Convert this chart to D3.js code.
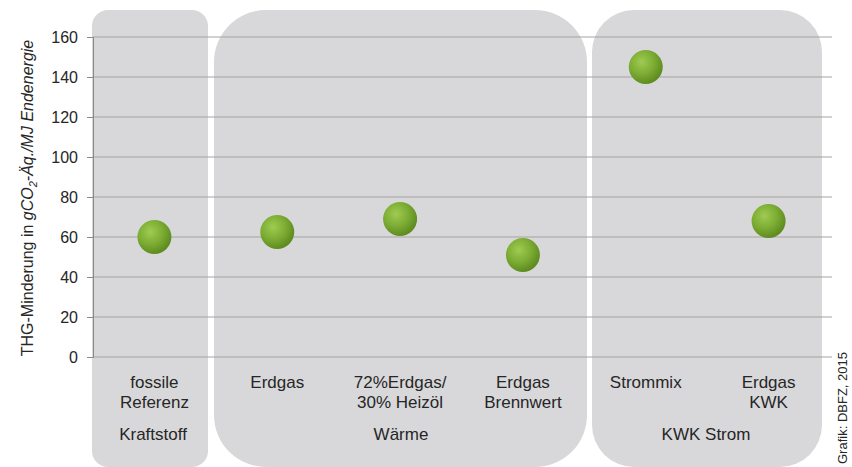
<!DOCTYPE html>
<html lang="de">
<head>
<meta charset="UTF-8">
<title>THG-Minderung</title>
<script src="https://d3js.org/d3.v7.min.js"></script>
<style>
  body { margin: 0; background: #fff; }
  text { font-family: "Liberation Sans", Arial, sans-serif; fill: #262626; }
</style>
</head>
<body>
<script>
var categories = ['fossile Referenz', 'Erdgas', '72%Erdgas/ 30% Heizöl', 'Erdgas Brennwert', 'Strommix', 'Erdgas KWK'];
var catLines = [['fossile', 'Referenz'], ['Erdgas'], ['72%Erdgas/', '30% Heizöl'], ['Erdgas', 'Brennwert'], ['Strommix'], ['Erdgas', 'KWK']];
var values = [60, 62.5, 69, 51, 145, 68];
var groups = ['Kraftstoff', 'Wärme', 'KWK Strom'];
var yTicks = [0, 20, 40, 60, 80, 100, 120, 140, 160];

var width = 852, height = 467;

var x = d3.scaleBand()
  .domain(categories)
  .range([93, 830]);

var y = d3.scaleLinear()
  .domain([0, 160])
  .range([357, 37]);

var svg = d3.select('body').append('svg')
  .attr('width', width)
  .attr('height', height);

var defs = svg.append('defs');
var grad = defs.append('radialGradient')
  .attr('id', 'ball')
  .attr('cx', '38%').attr('cy', '35%').attr('r', '65%');
grad.append('stop').attr('offset', '0%').attr('stop-color', '#9fcb52');
grad.append('stop').attr('offset', '55%').attr('stop-color', '#7dad34');
grad.append('stop').attr('offset', '100%').attr('stop-color', '#5e8c20');

// group panels (rounded boxes that run off the bottom edge)
var panels = [
  { name: groups[0], x0: 92,  x1: 208, r: 16, lx: 153 },
  { name: groups[1], x0: 214, x1: 587, r: 52, lx: 401 },
  { name: groups[2], x0: 592, x1: 822, r: 42, lx: 706 }
];

svg.selectAll('rect.panel')
  .data(panels)
  .enter().append('rect')
  .attr('class', 'panel')
  .attr('x', function(d) { return d.x0; })
  .attr('y', 10)
  .attr('width', function(d) { return d.x1 - d.x0; })
  .attr('height', 457)
  .attr('rx', function(d) { return d.r; })
  .attr('fill', '#d8d8da');

// gridlines
svg.append('g')
  .selectAll('line')
  .data(yTicks)
  .enter().append('line')
  .attr('x1', 93).attr('x2', 832)
  .attr('y1', function(d) { return y(d); })
  .attr('y2', function(d) { return y(d); })
  .attr('stroke', '#a3a3a3')
  .attr('stroke-width', 1);

// y axis
var yAxis = svg.append('g')
  .attr('transform', 'translate(93,0)')
  .call(d3.axisLeft(y).tickValues(yTicks).tickSize(6).tickPadding(9));
yAxis.select('.domain').attr('stroke', '#8a8a8a');
yAxis.selectAll('.tick line').attr('stroke', '#8a8a8a');
yAxis.selectAll('.tick text')
  .style('font-family', '"Liberation Sans", Arial, sans-serif')
  .style('font-size', '16px')
  .attr('fill', '#262626');

// y axis title
var title = svg.append('text')
  .attr('transform', 'translate(33,198) rotate(-90)')
  .attr('text-anchor', 'middle')
  .style('font-size', '16px');
title.append('tspan').text('THG-Minderung in ');
title.append('tspan').attr('font-style', 'italic').text('gCO');
title.append('tspan').attr('font-style', 'italic').attr('font-size', '11px').attr('dy', 4).text('2');
title.append('tspan').attr('font-style', 'italic').attr('dy', -4).text('-Äq./MJ Endenergie');

// points
svg.selectAll('circle.pt')
  .data(values)
  .enter().append('circle')
  .attr('class', 'pt')
  .attr('cx', function(d, i) { return x(categories[i]) + x.bandwidth() / 2; })
  .attr('cy', function(d) { return y(d); })
  .attr('r', 17)
  .attr('fill', 'url(#ball)');

// category labels
var cl = svg.selectAll('text.cat')
  .data(catLines)
  .enter().append('text')
  .attr('class', 'cat')
  .attr('text-anchor', 'middle')
  .attr('x', function(d, i) { return x(categories[i]) + x.bandwidth() / 2; })
  .attr('y', 388)
  .style('font-size', '17px');
cl.selectAll('tspan')
  .data(function(d) { return d; })
  .enter().append('tspan')
  .attr('x', function() { return d3.select(this.parentNode).attr('x'); })
  .attr('dy', function(d, i) { return i === 0 ? 0 : 20; })
  .text(function(d) { return d; });

// group labels
svg.selectAll('text.grp')
  .data(panels)
  .enter().append('text')
  .attr('class', 'grp')
  .attr('text-anchor', 'middle')
  .attr('x', function(d) { return d.lx; })
  .attr('y', 440)
  .style('font-size', '17px')
  .text(function(d) { return d.name; });

// source
svg.append('text')
  .attr('transform', 'translate(847,464) rotate(-90)')
  .attr('text-anchor', 'start')
  .style('font-size', '13px')
  .attr('fill', '#333')
  .text('Grafik: DBFZ, 2015');
</script>
</body>
</html>
